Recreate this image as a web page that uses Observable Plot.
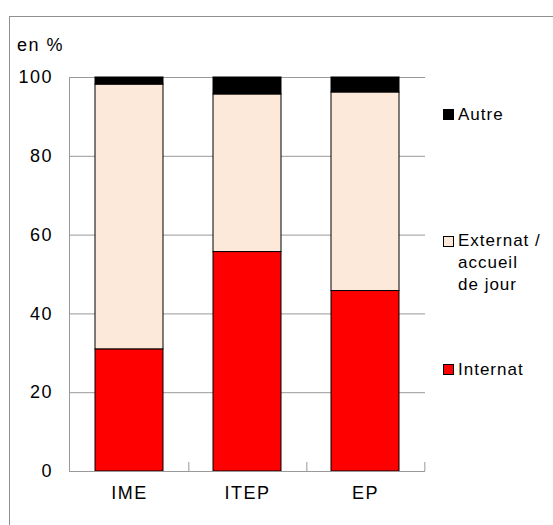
<!DOCTYPE html>
<html><head><meta charset="utf-8">
<script src="https://cdn.jsdelivr.net/npm/d3@7"></script>
<script src="https://cdn.jsdelivr.net/npm/@observablehq/plot@0.6"></script>
<style>
body{margin:0;background:#fff;overflow:hidden;font-family:"Liberation Sans",Arial,sans-serif;color:#000;}
#wrap{position:relative;width:553px;height:525px;overflow:hidden;}
#border{position:absolute;left:9px;top:16px;width:600px;height:600px;border:1px solid #8f8f8f;}
#chart{position:absolute;left:0;top:0;}
.txt{position:absolute;font-size:17px;line-height:22px;letter-spacing:1px;white-space:nowrap;}
.sq{position:absolute;width:11px;height:11px;box-sizing:border-box;border:1px solid #000;}
</style></head>
<body><div id="wrap"><div id="border"></div><div id="chart"></div>
<div class="txt" style="left:17px;top:35px;font-size:18px;letter-spacing:1.5px;line-height:20px;">en %</div>
<div id="legend"></div>
</div>
<script>
const categories = ["IME", "ITEP", "EP"];
const seriesNames = ["Internat", "Externat / accueil de jour", "Autre"];
const internat = [31, 55.7, 45.8];
const externat = [67.2, 40, 50.4];
const autre = [1.8, 4.3, 3.8];
const colors = ["#ff0000", "#fde9d9", "#000000"];
const yTicks = [0, 20, 40, 60, 80, 100];
const legendLines = [["Autre"], ["Externat /", "accueil", "de jour"], ["Internat"]];

const data = categories.flatMap((c, i) => [
  {cat: c, series: seriesNames[0], value: internat[i]},
  {cat: c, series: seriesNames[1], value: externat[i]},
  {cat: c, series: seriesNames[2], value: autre[i]}
]);

const W = 553, H = 525, mL = 69, mR = 128, mT = 77, mB = 54;
const step = (W - mL - mR) / categories.length;

const chart = Plot.plot({
  width: W, height: H,
  marginLeft: mL, marginRight: mR, marginTop: mT, marginBottom: mB,
  style: {fontFamily: "'Liberation Sans', Arial, sans-serif", fontSize: "18px", letterSpacing: "1.5px", color: "#000", background: "transparent"},
  x: {domain: categories, paddingInner: 0.425, paddingOuter: 0.2125, label: null, tickSize: 0, tickPadding: 15},
  y: {domain: [0, 100], ticks: yTicks, label: null, tickSize: 0, tickPadding: 16.5},
  color: {domain: seriesNames, range: colors},
  marks: [
    Plot.gridY(yTicks, {stroke: "#999", strokeOpacity: 1}),
    Plot.barY(data, {x: "cat", y: "value", fill: "series", stroke: "#000", strokeWidth: 1, order: seriesNames}),
    Plot.ruleY([0], {stroke: "#999"}),
    Plot.frame({anchor: "left", stroke: "#999"}),
    Plot.ruleX(categories, {x: d => d, y1: 0, y2: 0, insetTop: -9, dx: step / 2, stroke: "#999"})
  ]
});
document.getElementById("chart").appendChild(chart);

// legend (HTML text)
const legend = document.getElementById("legend");
const legendTops = [104, 230, 359];
const squareTops = [109, 236, 364];
const order = [2, 1, 0];
order.forEach((si, k) => {
  const sq = document.createElement("div");
  sq.className = "sq";
  sq.style.left = "443px";
  sq.style.top = squareTops[k] + "px";
  sq.style.background = colors[si];
  legend.appendChild(sq);
  const t = document.createElement("div");
  t.className = "txt";
  t.style.left = "458px";
  t.style.top = legendTops[k] + "px";
  t.innerHTML = legendLines[k].join("<br>");
  legend.appendChild(t);
});
</script>
</body></html>
